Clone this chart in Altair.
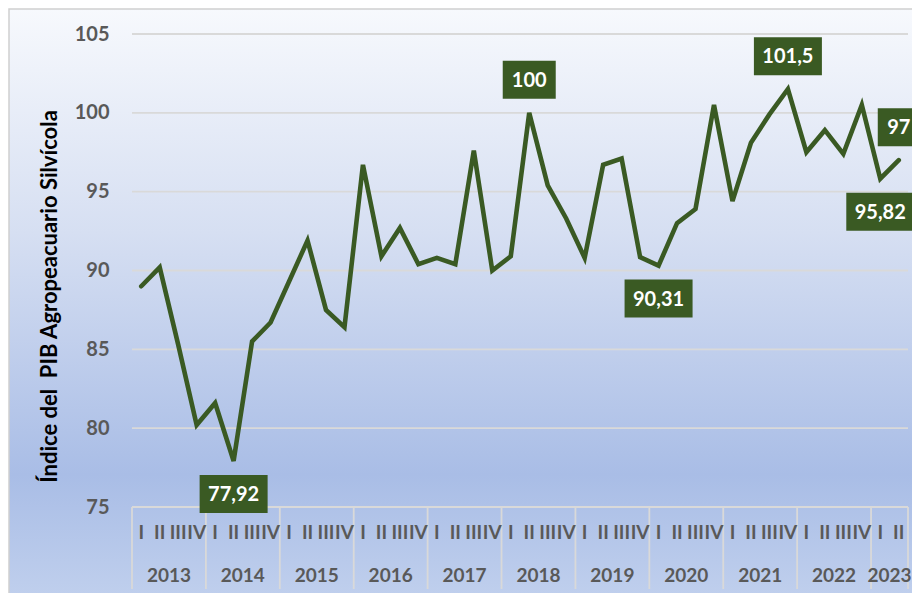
import altair as alt
import pandas as pd

years = ["2013", "2014", "2015", "2016", "2017", "2018", "2019", "2020", "2021", "2022", "2023"]
quarters = ["I", "II", "III", "IV"]
values = [89.0, 90.2, 85.3, 80.2,
          81.6, 77.92, 85.5, 86.7,
          89.3, 91.9, 87.5, 86.4,
          96.7, 90.9, 92.7, 90.4,
          90.8, 90.4, 97.6, 90.0,
          90.9, 100.0, 95.4, 93.3,
          90.8, 96.7, 97.1, 90.85,
          90.31, 93.0, 93.9, 100.5,
          94.4, 98.1, 99.9, 101.5,
          97.5, 98.9, 97.4, 100.5,
          95.82, 97.0]
label_index = [5, 21, 28, 35, 40, 41]
label_text = ["77,92", "100", "90,31", "101,5", "95,82", "97"]
label_above = [False, True, False, True, False, True]
y_ticks = [75, 80, 85, 90, 95, 100, 105]
y_title = "Índice del\u00a0 PIB Agropeacuario Silvícola"

W, H = 776, 473
PL, PT, PR, PB = 124, 26, 4, 86
GREEN = "#3a5a23"
GRAY = "#595959"
FONT = "Lato"

rows = []
for i, v in enumerate(values):
    yi = i // 4
    rows.append({"pos": i + 0.5, "value": v, "q": quarters[i % 4], "year": years[yi]})
df = pd.DataFrame(rows)

n = len(values)
xscale = alt.Scale(domain=[0, n], nice=False, zero=False)
yscale = alt.Scale(domain=[75, 105], nice=False, zero=False)

# background
bg = alt.Chart(pd.DataFrame({"a": [0]})).mark_rect(
    color={"gradient": "linear", "x1": 0, "y1": 0, "x2": 0, "y2": 1,
           "stops": [{"offset": 0, "color": "#f7f9fd"},
                     {"offset": 0.35, "color": "#d6dff2"},
                     {"offset": 0.73, "color": "#a9bde6"},
                     {"offset": 0.95, "color": "#c3d2ee"},
                     {"offset": 1, "color": "#c8d6f0"}]},
    stroke="#d0d0d0", strokeWidth=1.5
).encode(x=alt.value(-123), x2=alt.value(W + 40), y=alt.value(-25), y2=alt.value(H + 140))

grid = alt.Chart(pd.DataFrame({"t": y_ticks})).mark_rule(color="#d9d9d9", strokeWidth=1.8).encode(
    y=alt.Y("t:Q", scale=yscale, axis=alt.Axis(
        values=y_ticks, grid=False, domain=False, ticks=False, labelPadding=23,
        labelFont=FONT, labelFontSize=20, labelFontWeight="bold", labelColor=GRAY,
        title=y_title, titleFont=FONT, titleFontSize=22,
        titleFontWeight="bold", titleColor="#000000", titleAngle=-90,
        titleAlign="center", titleBaseline="middle", titleX=-83, titleY=262, zindex=1)),
    x=alt.value(0), x2=alt.value(W)
)

bounds = [j * 4 for j in range(len(years))] + [n]
sep = alt.Chart(pd.DataFrame({"b": bounds})).mark_rule(color="#d9d9d9", strokeWidth=1.8).encode(
    x=alt.X("b:Q", scale=xscale, axis=None), y=alt.value(H), y2=alt.value(H + 82)
)

qlab = alt.Chart(df).mark_text(font=FONT, fontSize=19, fontWeight="bold", color=GRAY,
                              baseline="middle").encode(
    x=alt.X("pos:Q", scale=xscale, axis=None), y=alt.value(H + 26), text="q:N"
)

ylab = alt.Chart(df).mark_text(font=FONT, fontSize=19, fontWeight="bold", color=GRAY,
                              baseline="middle").encode(
    x=alt.X("mean(pos):Q", scale=xscale, axis=None), y=alt.value(H + 69), text="year:N"
)

line = alt.Chart(df).mark_line(color=GREEN, strokeWidth=4.6, strokeJoin="miter", strokeCap="round").encode(
    x=alt.X("pos:Q", scale=xscale, axis=None), y=alt.Y("value:Q", scale=yscale)
)

layers = [bg, grid, sep, qlab, ylab, line]
for idx, txt, above in zip(label_index, label_text, label_above):
    d = pd.DataFrame({"pos": [idx + 0.5], "value": [values[idx]], "txt": [txt]})
    off = -33 if above else 33
    bw = 11 * len(txt.replace(",", "")) + 4 * txt.count(",") + 20
    box = alt.Chart(d).mark_rect(color=GREEN, width=bw, height=38, yOffset=off).encode(
        x=alt.X("pos:Q", scale=xscale, axis=None), y=alt.Y("value:Q", scale=yscale)
    )
    t = alt.Chart(d).mark_text(font=FONT, fontSize=20, fontWeight="bold", color="white",
                               baseline="middle", dy=off + 1).encode(
        x=alt.X("pos:Q", scale=xscale, axis=None), y=alt.Y("value:Q", scale=yscale), text="txt:N"
    )
    layers += [box, t]

chart = alt.layer(*layers).properties(
    width=W, height=H,
    autosize=alt.AutoSizeParams(type="none"),
    padding={"left": PL, "top": PT, "right": PR, "bottom": PB}
).configure_view(stroke=None)

chart.save("out.html", embed_options={"renderer": "svg", "actions": False})
